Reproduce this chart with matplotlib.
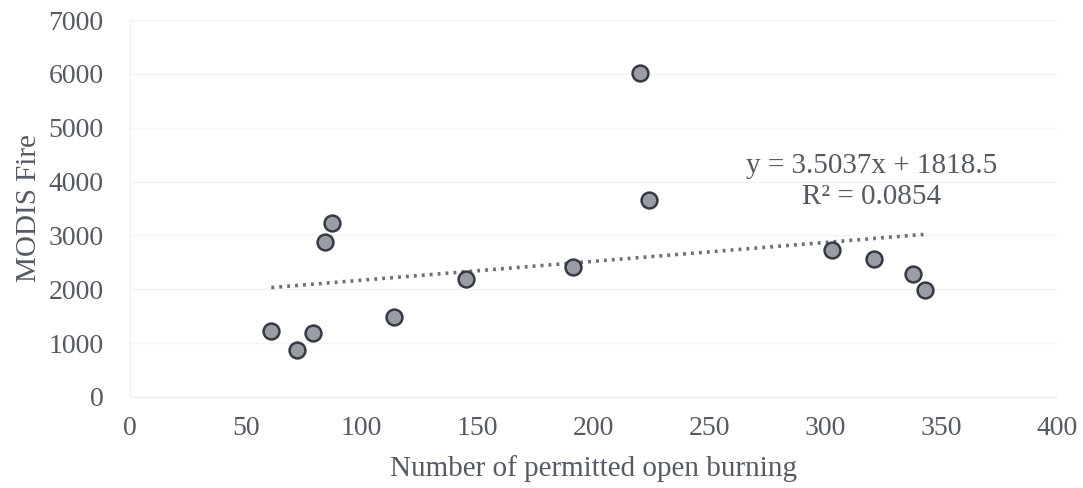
import numpy as np
import matplotlib.pyplot as plt

permits = [61, 72, 79, 84, 87, 114, 145, 191, 220, 224, 303, 321, 338, 343]
modis = [1225, 870, 1190, 2870, 3240, 1480, 2200, 2420, 6020, 3650, 2730, 2560, 2280, 1990]
slope, intercept, r2 = 3.5037, 1818.5, 0.0854

plt.rcParams['font.family'] = ['Liberation Serif', 'DejaVu Serif']
txt = '#555a63'

fig = plt.figure(figsize=(10.83, 4.88), dpi=100)
ax = fig.add_axes([0.12, 0.1865, 0.856, 0.7725])

ax.scatter(permits, modis, s=130, c='#9a9da3', edgecolors='#353a45', linewidths=1.8, zorder=3)

xs = np.array([min(permits), max(permits)])
ax.plot(xs, slope * xs + intercept, linestyle=(0, (0.8, 1.4)), color='#6c707a', linewidth=2.6, zorder=2)

ax.text(320, 4010, 'y = %.4fx + %.1f\nR² = %.4f' % (slope, intercept, r2),
        ha='center', va='center', fontsize=21, color=txt, linespacing=1.25)

ax.set_xlim(0, 400)
ax.set_ylim(0, 7000)
ax.set_xticks(range(0, 401, 50))
ax.set_yticks(range(0, 7001, 1000))
ax.grid(axis='y', color='#f3f3f3', linewidth=1)
ax.set_axisbelow(True)
for s in ['top', 'right']:
    ax.spines[s].set_visible(False)
for s in ['left', 'bottom']:
    ax.spines[s].set_color('#eeeeee')
ax.tick_params(length=0, labelsize=20, colors=txt)
ax.tick_params(axis='y', pad=19)
ax.tick_params(axis='x', pad=14)
ax.set_xlabel('Number of permitted open burning', fontsize=21, color=txt, labelpad=10)
ax.set_ylabel('MODIS Fire', fontsize=21, color=txt, labelpad=5)

fig.savefig('out.png', dpi=100)
